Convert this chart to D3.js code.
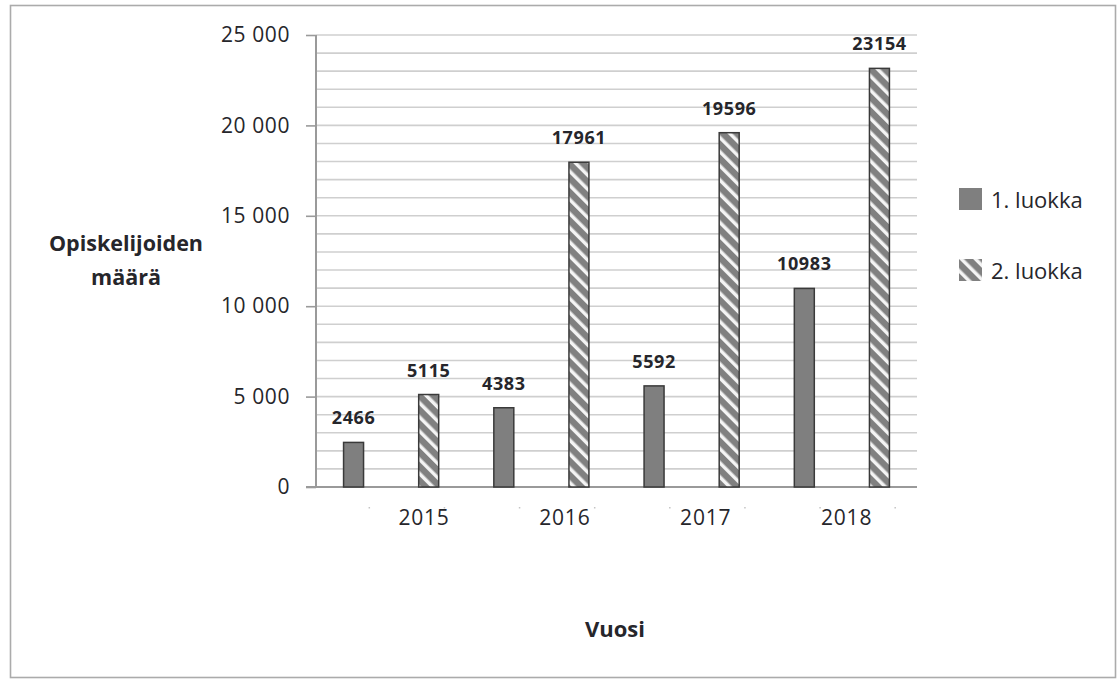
<!DOCTYPE html>
<html>
<head>
<meta charset="utf-8">
<script src="https://cdn.jsdelivr.net/npm/d3@7/dist/d3.min.js"></script>
<style>
  html, body { margin: 0; padding: 0; background: #fff; }
  svg text { font-family: "Open Sans", "Noto Sans", sans-serif; fill: #26262b; }
</style>
</head>
<body>
<svg id="chart" width="1117" height="679"></svg>
<script>
// Student counts per year, first and second grade
const years = ["2015", "2016", "2017", "2018"];
const seriesNames = ["1. luokka", "2. luokka"];
const grade1 = [2466, 4383, 5592, 10983];
const grade2 = [5115, 17961, 19596, 23154];
const yTickValues = [0, 5000, 10000, 15000, 20000, 25000];
const yTitle = ["Opiskelijoiden", "määrä"];
const xTitle = "Vuosi";

const svg = d3.select("#chart");
const plot = { left: 316, right: 917, top: 35, bottom: 487 };

// Outer frame
svg.append("rect")
  .attr("x", 10.5).attr("y", 5.5)
  .attr("width", 1105).attr("height", 672)
  .attr("fill", "#fff").attr("stroke", "#ababab").attr("stroke-width", 1.6);

// Diagonal hatch for the second grade
const defs = svg.append("defs");
const pat = defs.append("pattern")
  .attr("id", "hatch")
  .attr("patternUnits", "userSpaceOnUse")
  .attr("width", 10).attr("height", 10)
  .attr("patternTransform", "rotate(-45)");
pat.append("rect").attr("width", 10).attr("height", 10).attr("fill", "#808080");
pat.append("rect").attr("x", 0).attr("width", 3.5).attr("height", 10).attr("fill", "#f4f4f4");

// One slot per bar: grade 1 then grade 2 for each year
const bars = [];
years.forEach((yr, i) => {
  bars.push({ key: yr + "-1", series: 0, value: grade1[i] });
  bars.push({ key: yr + "-2", series: 1, value: grade2[i] });
});

const x = d3.scaleBand()
  .domain(bars.map(d => d.key))
  .range([plot.left, plot.right])
  .paddingInner(0.734)
  .paddingOuter(0.367);

const y = d3.scaleLinear().domain([0, 25000]).range([plot.bottom, plot.top]);

const fmt = d3.formatLocale({ decimal: ",", thousands: " ", grouping: [3], currency: ["", ""] }).format(",");

// Gridlines every 1000
svg.append("g").selectAll("line")
  .data(d3.range(1000, 25001, 1000))
  .join("line")
  .attr("x1", plot.left).attr("x2", plot.right)
  .attr("y1", d => y(d)).attr("y2", d => y(d))
  .attr("stroke", "#cfcfcf").attr("stroke-width", 1.6);

// Y axis
const yAxis = svg.append("g")
  .attr("transform", `translate(${plot.left},0)`)
  .call(d3.axisLeft(y).tickValues(yTickValues).tickFormat(fmt).tickSize(10).tickPadding(16));
yAxis.select(".domain").attr("stroke", "#9a9a9a").attr("stroke-width", 2)
  .attr("d", `M0,${plot.bottom}V${plot.top}`);
yAxis.selectAll(".tick line").attr("stroke", "#9a9a9a").attr("stroke-width", 1.6);
yAxis.selectAll(".tick text")
  .attr("font-size", 21).attr("font-weight", 500).attr("letter-spacing", 0.6)
  .style("fill", "#26262b");

// Baseline
svg.append("line")
  .attr("x1", plot.left - 10).attr("x2", plot.right)
  .attr("y1", y(0)).attr("y2", y(0))
  .attr("stroke", "#9a9a9a").attr("stroke-width", 2);

// Bars
svg.append("g").selectAll("rect")
  .data(bars)
  .join("rect")
  .attr("x", d => x(d.key))
  .attr("y", d => y(d.value))
  .attr("width", x.bandwidth())
  .attr("height", d => y(0) - y(d.value))
  .attr("fill", d => d.series === 0 ? "#7f7f7f" : "url(#hatch)")
  .attr("stroke", "#3a3a3a").attr("stroke-width", 1.5);

// Value labels
svg.append("g").selectAll("text")
  .data(bars)
  .join("text")
  .attr("x", d => x(d.key) + x.bandwidth() / 2)
  .attr("y", d => y(d.value) - 18)
  .attr("text-anchor", "middle")
  .attr("font-size", 18).attr("font-weight", 700).attr("letter-spacing", 0.6)
  .text(d => d.value);

// Year labels, spread from the first bar centre to the plot's right edge
const xYear = d3.scaleBand()
  .domain(years)
  .range([x(bars[0].key) + x.bandwidth() / 2, plot.right]);
svg.append("g").selectAll("text")
  .data(years)
  .join("text")
  .attr("x", d => xYear(d) + xYear.bandwidth() / 2)
  .attr("y", 525)
  .attr("text-anchor", "middle")
  .attr("font-size", 21).attr("font-weight", 500).attr("letter-spacing", 0.8)
  .text(d => d);

// Faint category tick marks under the axis
svg.append("g").selectAll("rect")
  .data(bars)
  .join("rect")
  .attr("x", d => x(d.key) + x.bandwidth() / 2 + 15)
  .attr("y", 507)
  .attr("width", 1.5).attr("height", 1.5)
  .attr("fill", "#c4c4c4");

// Axis titles
svg.append("text")
  .attr("x", 126).attr("y", 251)
  .attr("text-anchor", "middle")
  .attr("font-size", 21.5).attr("font-weight", 700)
  .selectAll("tspan")
  .data(yTitle)
  .join("tspan")
  .attr("x", 126)
  .attr("dy", (d, i) => i === 0 ? 0 : 34)
  .text(d => d);

svg.append("text")
  .attr("x", 615).attr("y", 637)
  .attr("text-anchor", "middle")
  .attr("font-size", 22).attr("font-weight", 700)
  .text(xTitle);

// Legend
const legendRows = seriesNames.map((name, i) => ({ name, i }));
const lg = svg.append("g").selectAll("g")
  .data(legendRows)
  .join("g")
  .attr("transform", d => `translate(959, ${188 + d.i * 71})`);
lg.append("rect")
  .attr("width", 23).attr("height", 22)
  .attr("fill", d => d.i === 0 ? "#7f7f7f" : "url(#hatch)");
lg.append("text")
  .attr("x", 32).attr("y", 20)
  .attr("font-size", 22).attr("font-weight", 500)
  .text(d => d.name);
</script>
</body>
</html>
